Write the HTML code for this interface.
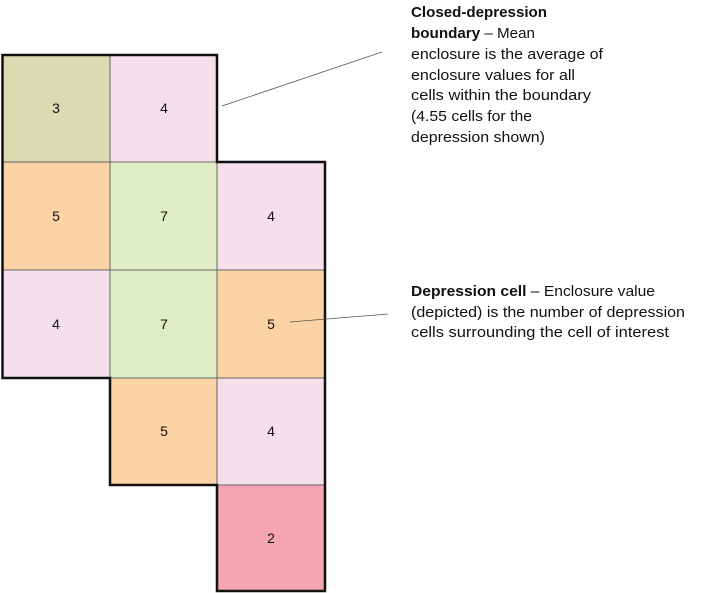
<!DOCTYPE html>
<html><head><style>
html,body{margin:0;padding:0;background:#fff;}
svg{display:block;}
text{font-family:"Liberation Sans Narrow","Liberation Sans",sans-serif;fill:#111;}
.n{font-size:14px;text-anchor:middle;}
.t{font-size:15px;}
</style></head><body>
<svg width="716" height="593" viewBox="0 0 716 593">
<g stroke="#666" stroke-width="1">
<rect x="2.5" y="55" width="107.5" height="107" fill="#d9dbb0"/>
<rect x="110" y="55" width="107" height="107" fill="#f4dfeb"/>
<rect x="2.5" y="162" width="107.5" height="108" fill="#fbd3a5"/>
<rect x="110" y="162" width="107" height="108" fill="#deedc3"/>
<rect x="217" y="162" width="108" height="108" fill="#f4dfeb"/>
<rect x="2.5" y="270" width="107.5" height="108" fill="#f4dfeb"/>
<rect x="110" y="270" width="107" height="108" fill="#deedc3"/>
<rect x="217" y="270" width="108" height="108" fill="#fbd3a5"/>
<rect x="110" y="378" width="107" height="107" fill="#fbd3a5"/>
<rect x="217" y="378" width="108" height="107" fill="#f4dfeb"/>
<rect x="217" y="485" width="108" height="106" fill="#f3a5b1"/>
</g>
<path d="M2.5 55 H217 V162 H325 V591 H217 V485 H110 V378 H2.5 Z" fill="none" stroke="#111" stroke-width="2.5"/>
<text class="n" x="56" y="113">3</text>
<text class="n" x="164" y="113">4</text>
<text class="n" x="56" y="221">5</text>
<text class="n" x="164" y="221">7</text>
<text class="n" x="271" y="221">4</text>
<text class="n" x="56" y="329">4</text>
<text class="n" x="164" y="329">7</text>
<text class="n" x="271" y="329">5</text>
<text class="n" x="164" y="436">5</text>
<text class="n" x="271" y="436">4</text>
<text class="n" x="271" y="543">2</text>
<line x1="222" y1="106" x2="382" y2="52" stroke="#555" stroke-width="0.8"/>
<line x1="290" y1="322" x2="388" y2="314" stroke="#555" stroke-width="0.8"/>
<text class="t" x="411" y="17" font-weight="bold" textLength="136" lengthAdjust="spacingAndGlyphs">Closed-depression</text>
<text class="t" x="411" y="38" textLength="124" lengthAdjust="spacingAndGlyphs"><tspan font-weight="bold">boundary</tspan> – Mean</text>
<text class="t" x="411" y="59" textLength="192" lengthAdjust="spacingAndGlyphs">enclosure is the average of</text>
<text class="t" x="411" y="80" textLength="164" lengthAdjust="spacingAndGlyphs">enclosure values for all</text>
<text class="t" x="411" y="100" textLength="180" lengthAdjust="spacingAndGlyphs">cells within the boundary</text>
<text class="t" x="411" y="121" textLength="121" lengthAdjust="spacingAndGlyphs">(4.55 cells for the</text>
<text class="t" x="411" y="142" textLength="134" lengthAdjust="spacingAndGlyphs">depression shown)</text>
<text class="t" x="411" y="296" textLength="244" lengthAdjust="spacingAndGlyphs"><tspan font-weight="bold">Depression cell</tspan> – Enclosure value</text>
<text class="t" x="411" y="317" textLength="274" lengthAdjust="spacingAndGlyphs">(depicted) is the number of depression</text>
<text class="t" x="411" y="337" textLength="258" lengthAdjust="spacingAndGlyphs">cells surrounding the cell of interest</text>
</svg>
</body></html>
